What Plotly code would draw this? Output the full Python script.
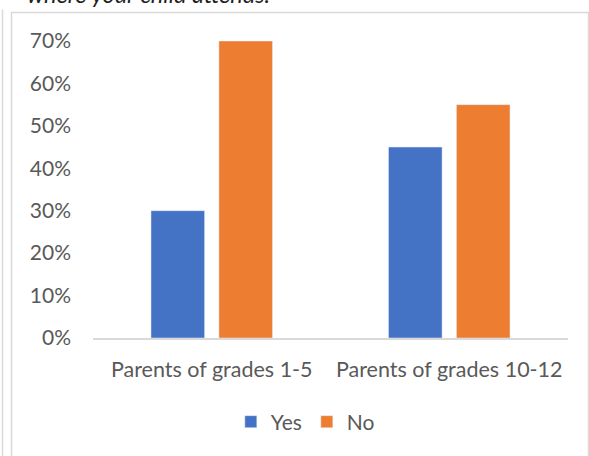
import plotly.graph_objects as go

# Survey responses by parent group
categories = ["Parents of grades 1-5", "Parents of grades 10-12"]
yes_share = [0.30, 0.45]
no_share = [0.70, 0.55]
y_ticks = [0, 0.1, 0.2, 0.3, 0.4, 0.5, 0.6, 0.7]

W, H = 589, 456
M_L, M_R, M_T, M_B = 93, 21, 41, 118
PW, PH = W - M_L - M_R, H - M_T - M_B

def px_x(x):
    return (x - M_L) / PW

def px_y(y):
    return (H - M_B - y) / PH

FONT = "Lato"
TXT = "#595959"
EDGE = "#D9D9D9"

fig = go.Figure()
fig.add_trace(go.Bar(name="Yes", x=categories, y=yes_share, marker_color="#4472C4"))
fig.add_trace(go.Bar(name="No", x=categories, y=no_share, marker_color="#ED7D31"))

fig.update_layout(
    width=W, height=H,
    margin=dict(l=M_L, r=M_R, t=M_T, b=M_B, pad=0),
    paper_bgcolor="white", plot_bgcolor="white",
    barmode="group", bargap=0.428, bargroupgap=0.211,
    font=dict(family=FONT, size=21, color=TXT),
    showlegend=True,
    legend=dict(orientation="h", x=0.447, xanchor="center", y=px_y(422), yanchor="middle",
                font=dict(family=FONT, size=21, color=TXT), itemwidth=30),
    xaxis=dict(showline=True, linecolor=EDGE, linewidth=1.5, showgrid=False,
               ticks="", ticklabelstandoff=11, tickfont=dict(family=FONT, size=21.5, color=TXT)),
    yaxis=dict(range=[0, 0.7], tickvals=y_ticks, tickformat=".0%", showgrid=False,
               zeroline=False, showline=False, ticks="", ticklabelstandoff=21,
               tickfont=dict(family=FONT, size=21, color=TXT)),
    shapes=[
        # chart frame
        dict(type="rect", xref="paper", yref="paper",
             x0=px_x(11.5), x1=px_x(588.5), y0=px_y(470), y1=px_y(12.5),
             line=dict(color=EDGE, width=1.5), fillcolor="rgba(0,0,0,0)", layer="below"),
        # page edge line on the left
        dict(type="line", xref="paper", yref="paper",
             x0=px_x(2.5), x1=px_x(2.5), y0=px_y(470), y1=px_y(9.5),
             line=dict(color=EDGE, width=1.5), layer="below"),
    ],
    annotations=[
        dict(text="where your child attends.", xref="paper", yref="paper",
             x=px_x(25), y=px_y(10), xanchor="left", yanchor="bottom", showarrow=False,
             font=dict(family=FONT, size=23.5, color="#1F1F1F", style="italic")),
    ],
)

fig.write_html("out.html")
